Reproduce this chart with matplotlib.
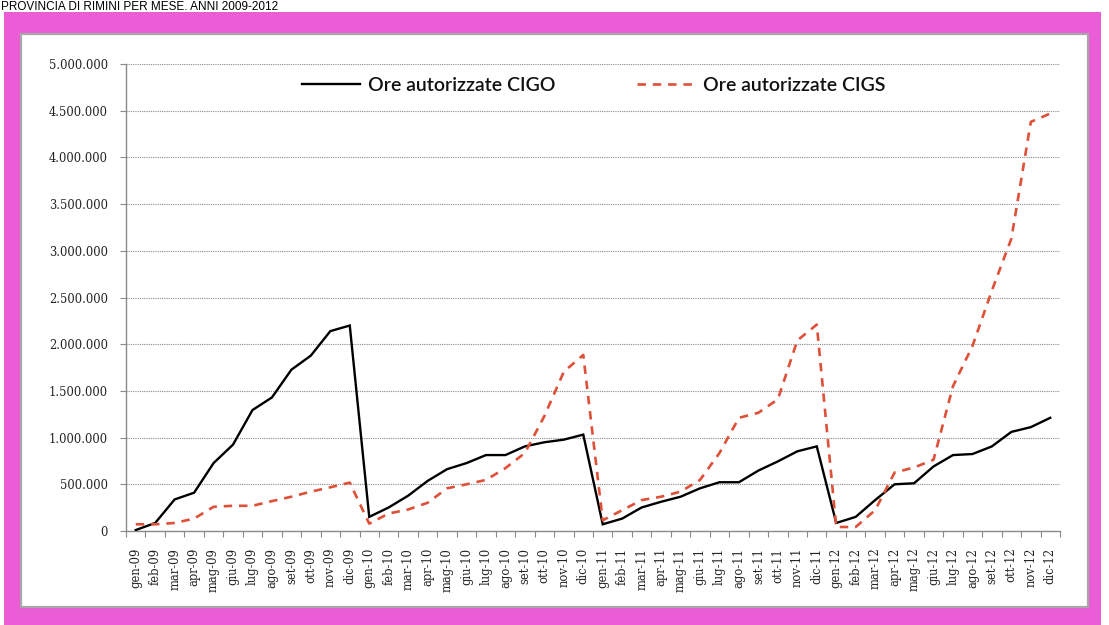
import matplotlib
matplotlib.use("Agg")
import matplotlib.pyplot as plt
from matplotlib.patches import Rectangle
from matplotlib.ticker import FixedLocator, FuncFormatter
import numpy as np

# Monthly authorised hours of wage-supplement (Cassa Integrazione), 2009-2012
months = ["gen", "feb", "mar", "apr", "mag", "giu",
          "lug", "ago", "set", "ott", "nov", "dic"]
years = ["09", "10", "11", "12"]
labels = [f"{m}-{y}" for y in years for m in months]

cigo = [
    10000, 86000, 338000, 410000, 727000, 925000,
    1295000, 1430000, 1727000, 1878000, 2140000, 2200000,
    151000, 252000, 378000, 536000, 662000, 727000,
    813000, 813000, 906000, 950000, 978000, 1032000,
    72000, 133000, 252000, 313000, 367000, 457000,
    522000, 522000, 647000, 745000, 853000, 906000,
    86000, 151000, 331000, 500000, 511000, 691000,
    813000, 824000, 906000, 1061000, 1112000, 1212000,
]
cigs = [
    72000, 72000, 86000, 133000, 259000, 270000,
    270000, 320000, 367000, 421000, 468000, 518000,
    79000, 187000, 230000, 302000, 457000, 500000,
    547000, 673000, 835000, 1230000, 1705000, 1885000,
    115000, 223000, 331000, 367000, 421000, 547000,
    835000, 1212000, 1266000, 1410000, 2040000, 2210000,
    43000, 43000, 223000, 626000, 680000, 763000,
    1550000, 1980000, 2575000, 3130000, 4380000, 4470000,
]
yticks = [0, 500000, 1000000, 1500000, 2000000, 2500000,
          3000000, 3500000, 4000000, 4500000, 5000000]

W, H = 1109, 625
fig = plt.figure(figsize=(W / 100, H / 100), dpi=100)
fig.patch.set_facecolor("white")


def box(x0, y0, x1, y1):
    return (x0 / W, 1 - y1 / H), (x1 - x0) / W, (y1 - y0) / H


# magenta frame and white chart panel
xy, w, h = box(4, 12, 1101, 625)
fig.patches.append(Rectangle(xy, w, h, transform=fig.transFigure,
                             facecolor="#EB5CD7", edgecolor="none", zorder=-10))
xy, w, h = box(21, 34, 1088, 607)
fig.patches.append(Rectangle(xy, w, h, transform=fig.transFigure,
                             facecolor="white", edgecolor="#A8A8A8",
                             linewidth=1.6, zorder=-9))

# heading line in the white strip above the frame
fig.text(1 / W, 1 - 10 / H, "PROVINCIA DI RIMINI PER MESE. ANNI 2009-2012",
         ha="left", va="baseline", fontsize=8.5, family="Liberation Sans",
         color="black")

ax = fig.add_axes([126 / W, 1 - 531 / H, (1060 - 126) / W, (531 - 64) / H])
ax.set_facecolor("none")

x = np.arange(len(labels))
ax.plot(x, cigo, color="black", linewidth=1.7, solid_joinstyle="miter",
        label="Ore autorizzate CIGO", zorder=3)
ax.plot(x, cigs, color="#DE5038", linewidth=1.9, dashes=(3.2, 2.6),
        label="Ore autorizzate CIGS", zorder=3)

ax.set_xlim(-0.5, len(labels) - 0.5)
ax.set_ylim(0, 5000000)

ax.set_yticks(yticks)
ax.yaxis.set_major_formatter(
    FuncFormatter(lambda v, p: f"{int(v):,}".replace(",", ".")))
ax.grid(axis="y", color="#8A8A8A", linestyle=(0, (1, 1)), linewidth=0.8)
ax.set_axisbelow(True)

ax.set_xticks(x)
ax.set_xticklabels(labels, rotation=90, ha="center", va="top")
ax.xaxis.set_minor_locator(FixedLocator(np.arange(-0.5, len(labels), 1.0)))
ax.tick_params(axis="x", which="major", length=0, pad=12)
ax.tick_params(axis="x", which="minor", length=4, color="#8A8A8A", width=0.8)
ax.tick_params(axis="y", length=4, color="#8A8A8A", width=0.8, pad=9)

for lab in ax.get_xticklabels() + ax.get_yticklabels():
    lab.set_family("DejaVu Serif")
    lab.set_fontsize(8.3)
    lab.set_color("#222222")

for s in ("top", "right"):
    ax.spines[s].set_visible(False)
for s in ("left", "bottom"):
    ax.spines[s].set_color("#8A8A8A")
    ax.spines[s].set_linewidth(1.0)

leg = ax.legend(loc="center", bbox_to_anchor=(0.5005, 0.955), ncol=2,
                frameon=False, handlelength=3.0, handletextpad=0.4,
                columnspacing=4.2,
                prop={"family": "Lato", "size": 14, "weight": "semibold"})
for t in leg.get_texts():
    t.set_color("#111111")

fig.savefig("out.png", dpi=100)
